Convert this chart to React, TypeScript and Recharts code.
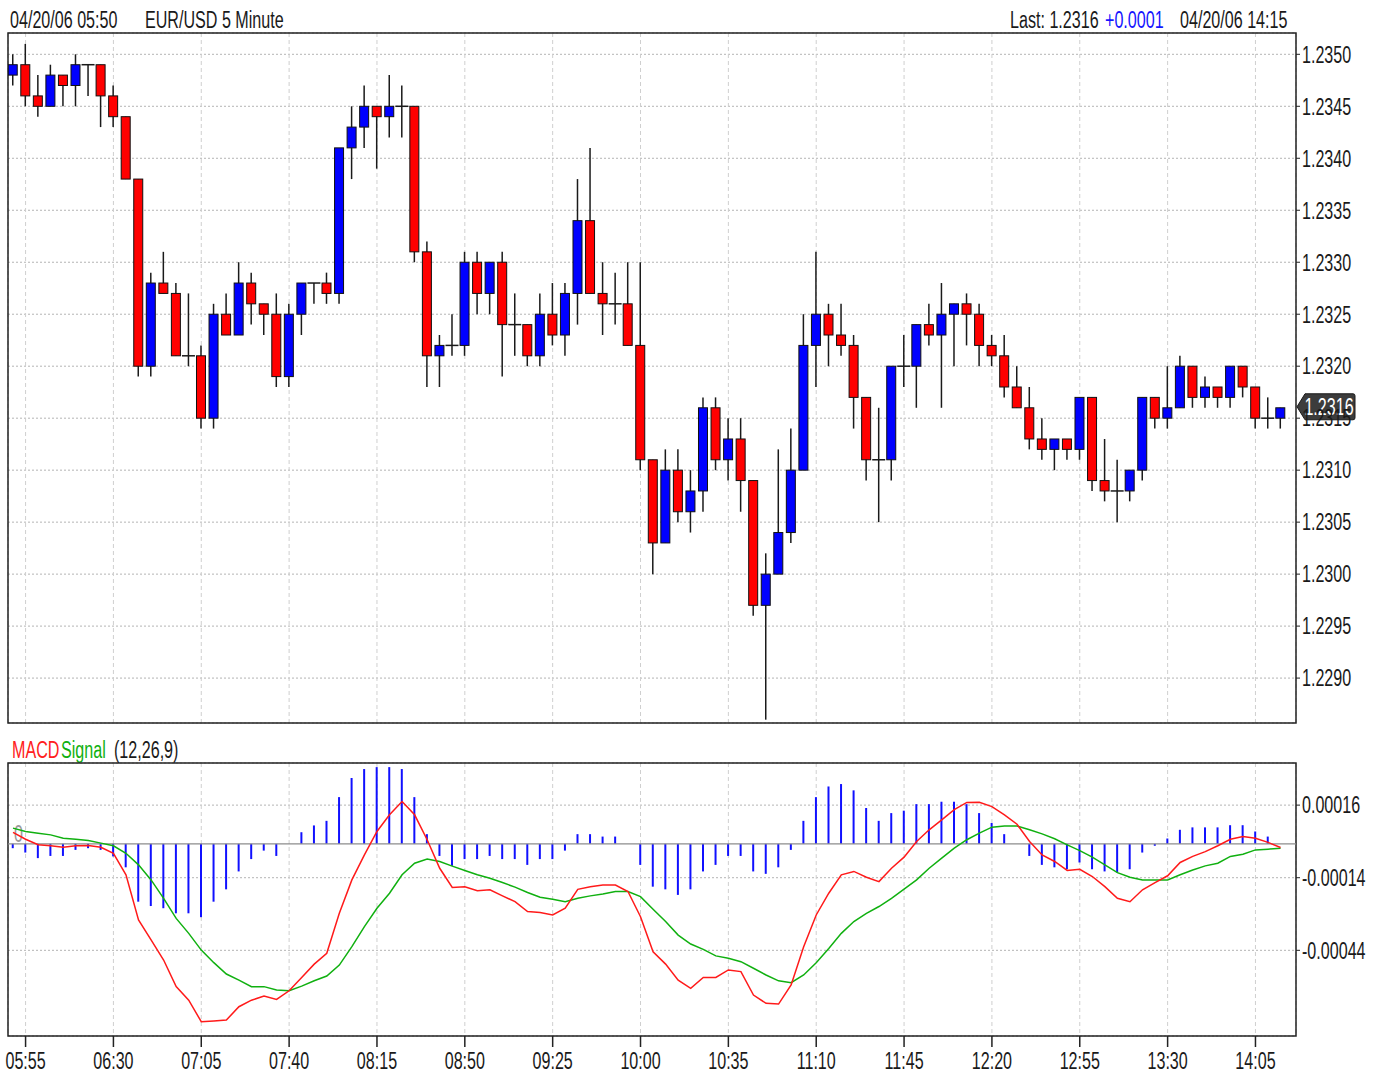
import React from "react";
import {
  ComposedChart,
  Bar,
  Line,
  XAxis,
  YAxis,
  CartesianGrid,
  ReferenceLine,
  ReferenceArea,
} from "recharts";

// no narrow font installed: Liberation Sans squeezed horizontally
const FONT = "'Liberation Sans', Arial, sans-serif";
const FS = 23;
const SQUEEZE = 0.7;

// EUR/USD 5 minute candles, 05:50 .. 14:15
const OPEN = [
  1.2348, 1.2349, 1.2346, 1.2345, 1.2348, 1.2347, 1.2349, 1.2349, 1.2346, 1.2344,
  1.2338, 1.232, 1.2328, 1.2327, 1.2321, 1.2321, 1.2315, 1.2325, 1.2323, 1.2328,
  1.2326, 1.2325, 1.2319, 1.2325, 1.2328, 1.2328, 1.2327, 1.2341, 1.2343, 1.2345,
  1.2344, 1.2345, 1.2345, 1.2331, 1.2321, 1.2322, 1.2322, 1.233, 1.2327, 1.233,
  1.2324, 1.2324, 1.2321, 1.2325, 1.2323, 1.2327, 1.2334, 1.2327, 1.2326, 1.2326,
  1.2322, 1.2311, 1.2303, 1.231, 1.2306, 1.2308, 1.2316, 1.2311, 1.2313, 1.2309,
  1.2297, 1.23, 1.2304, 1.231, 1.2322, 1.2325, 1.2323, 1.2322, 1.2317, 1.2311,
  1.2311, 1.232, 1.232, 1.2324, 1.2323, 1.2325, 1.2326, 1.2325, 1.2322, 1.2321,
  1.2318, 1.2316, 1.2313, 1.2312, 1.2313, 1.2312, 1.2317, 1.2309, 1.2308, 1.2308,
  1.231, 1.2317, 1.2315, 1.2316, 1.232, 1.2317, 1.2318, 1.2317, 1.232, 1.2318,
  1.2315, 1.2315,
];
const HIGH = [
  1.235, 1.2351, 1.2348, 1.2349, 1.2348, 1.235, 1.2349, 1.2349, 1.2347, 1.2344,
  1.2338, 1.2329, 1.2331, 1.2328, 1.2327, 1.2322, 1.2326, 1.2327, 1.233, 1.2329,
  1.2326, 1.2327, 1.2326, 1.2328, 1.2328, 1.2329, 1.2341, 1.2345, 1.2347, 1.2345,
  1.2348, 1.2347, 1.2345, 1.2332, 1.2323, 1.2325, 1.2331, 1.2331, 1.233, 1.2331,
  1.2327, 1.2324, 1.2327, 1.2328, 1.2328, 1.2338, 1.2341, 1.233, 1.2329, 1.233,
  1.233, 1.2311, 1.2312, 1.2312, 1.231, 1.2317, 1.2317, 1.2315, 1.2315, 1.2309,
  1.2302, 1.2312, 1.2314, 1.2325, 1.2331, 1.2326, 1.2326, 1.2323, 1.2317, 1.2316,
  1.232, 1.2323, 1.2324, 1.2326, 1.2328, 1.2326, 1.2327, 1.2326, 1.2323, 1.2323,
  1.232, 1.2318, 1.2315, 1.2313, 1.2313, 1.2317, 1.2317, 1.2313, 1.2311, 1.231,
  1.2317, 1.2317, 1.232, 1.2321, 1.232, 1.2319, 1.2318, 1.232, 1.232, 1.2318,
  1.2317, 1.2316,
];
const LOW = [
  1.2347, 1.2345, 1.2344, 1.2345, 1.2345, 1.2345, 1.2346, 1.2343, 1.2343, 1.2338,
  1.2319, 1.2319, 1.2327, 1.2321, 1.232, 1.2314, 1.2314, 1.2323, 1.2323, 1.2324,
  1.2323, 1.2318, 1.2318, 1.2323, 1.2326, 1.2326, 1.2326, 1.2338, 1.2341, 1.2339,
  1.2342, 1.2342, 1.233, 1.2318, 1.2318, 1.2321, 1.2321, 1.2325, 1.2325, 1.2319,
  1.2321, 1.232, 1.232, 1.2322, 1.2321, 1.2324, 1.2327, 1.2323, 1.2324, 1.2322,
  1.231, 1.23, 1.2303, 1.2305, 1.2304, 1.2306, 1.231, 1.2309, 1.2306, 1.2296,
  1.2286, 1.23, 1.2303, 1.231, 1.2318, 1.232, 1.2321, 1.2314, 1.2309, 1.2305,
  1.2309, 1.2318, 1.2316, 1.2322, 1.2316, 1.232, 1.2322, 1.232, 1.232, 1.2317,
  1.2316, 1.2312, 1.2311, 1.231, 1.2311, 1.2311, 1.2308, 1.2307, 1.2305, 1.2307,
  1.2309, 1.2314, 1.2314, 1.2316, 1.2316, 1.2316, 1.2316, 1.2316, 1.2317, 1.2314,
  1.2314, 1.2314,
];
const CLOSE = [
  1.2349, 1.2346, 1.2345, 1.2348, 1.2347, 1.2349, 1.2349, 1.2346, 1.2344, 1.2338,
  1.232, 1.2328, 1.2327, 1.2321, 1.2321, 1.2315, 1.2325, 1.2323, 1.2328, 1.2326,
  1.2325, 1.2319, 1.2325, 1.2328, 1.2328, 1.2327, 1.2341, 1.2343, 1.2345, 1.2344,
  1.2345, 1.2345, 1.2331, 1.2321, 1.2322, 1.2322, 1.233, 1.2327, 1.233, 1.2324,
  1.2324, 1.2321, 1.2325, 1.2323, 1.2327, 1.2334, 1.2327, 1.2326, 1.2326, 1.2322,
  1.2311, 1.2303, 1.231, 1.2306, 1.2308, 1.2316, 1.2311, 1.2313, 1.2309, 1.2297,
  1.23, 1.2304, 1.231, 1.2322, 1.2325, 1.2323, 1.2322, 1.2317, 1.2311, 1.2311,
  1.232, 1.232, 1.2324, 1.2323, 1.2325, 1.2326, 1.2325, 1.2322, 1.2321, 1.2318,
  1.2316, 1.2313, 1.2312, 1.2313, 1.2312, 1.2317, 1.2309, 1.2308, 1.2308, 1.231,
  1.2317, 1.2315, 1.2316, 1.232, 1.2317, 1.2318, 1.2317, 1.232, 1.2318, 1.2315,
  1.2315, 1.2316,
];

// MACD(12,26,9), values in units of 0.0001
const MACD = [
  0.47, 0.19, -0.04, -0.08, -0.14, -0.08, -0.07, -0.14, -0.39, -1.28,
  -3.14, -3.97, -4.8, -5.9, -6.46, -7.35, -7.32, -7.28, -6.73, -6.46,
  -6.29, -6.43, -6.07, -5.52, -4.97, -4.52, -2.87, -1.49, -0.46, 0.51,
  1.2, 1.75, 1.2, 0.17, -1.01, -1.8, -1.77, -1.94, -1.9, -2.15,
  -2.39, -2.8, -2.84, -2.94, -2.66, -1.88, -1.77, -1.7, -1.7, -1.97,
  -3.01, -4.46, -4.97, -5.63, -5.97, -5.52, -5.52, -5.21, -5.28, -6.25,
  -6.59, -6.62, -5.83, -4.25, -2.94, -2.04, -1.28, -1.14, -1.38, -1.56,
  -1.01, -0.55, 0.1, 0.58, 0.99, 1.41, 1.71, 1.72, 1.54, 1.2,
  0.81, 0.1, -0.46, -0.73, -1.1, -1.05, -1.35, -1.77, -2.25, -2.39,
  -1.9, -1.6, -1.32, -0.77, -0.52, -0.32, -0.08, 0.19, 0.3, 0.23,
  0.06, -0.15,
];
const SIGNAL = [
  0.65, 0.51, 0.44, 0.37, 0.23, 0.19, 0.14, 0.03, -0.08, -0.39,
  -0.87, -1.49, -2.25, -3.08, -3.7, -4.39, -4.91, -5.38, -5.63, -5.9,
  -5.9, -6.04, -6.07, -5.88, -5.66, -5.46, -5.01, -4.25, -3.42, -2.66,
  -2.04, -1.28, -0.8, -0.63, -0.73, -0.92, -1.1, -1.28, -1.42, -1.6,
  -1.79, -2.01, -2.21, -2.29, -2.39, -2.25, -2.15, -2.07, -1.97, -1.97,
  -2.18, -2.7, -3.21, -3.77, -4.14, -4.36, -4.63, -4.73, -4.87, -5.14,
  -5.42, -5.66, -5.74, -5.42, -4.91, -4.32, -3.7, -3.21, -2.87, -2.59,
  -2.25, -1.87, -1.49, -1.01, -0.59, -0.18, 0.17, 0.44, 0.69, 0.74,
  0.74, 0.58, 0.41, 0.21, -0.04, -0.28, -0.55, -0.87, -1.19, -1.38,
  -1.49, -1.49, -1.49, -1.28, -1.08, -0.91, -0.8, -0.52, -0.43, -0.25,
  -0.22, -0.18,
];
const HIST = [
  -0.18, -0.36, -0.59, -0.5, -0.5, -0.25, -0.18, -0.25, -0.52, -0.97,
  -2.39, -2.57, -2.66, -2.87, -2.87, -3.03, -2.39, -1.88, -1.14, -0.63,
  -0.28, -0.5, 0, 0.48, 0.76, 0.95, 1.93, 2.72, 3.09, 3.17,
  3.17, 3.09, 1.93, 0.4, -0.5, -0.91, -0.63, -0.63, -0.5, -0.63,
  -0.63, -0.87, -0.63, -0.63, -0.28, 0.4, 0.4, 0.3, 0.3, 0,
  -0.87, -1.77, -1.88, -2.11, -1.88, -1.14, -0.87, -0.5, -0.5, -1.14,
  -1.24, -0.97, -0.25, 0.95, 1.93, 2.37, 2.47, 2.21, 1.48, 0.95,
  1.27, 1.37, 1.64, 1.64, 1.74, 1.74, 1.64, 1.27, 0.86, 0.4,
  0, -0.5, -0.87, -0.97, -1.05, -0.77, -1.05, -1.14, -1.19, -1.05,
  -0.36, -0.08, 0.22, 0.58, 0.68, 0.68, 0.68, 0.77, 0.77, 0.51,
  0.3, 0,
];

const TIME_TICKS = [1, 8, 15, 22, 29, 36, 43, 50, 57, 64, 71, 78, 85, 92, 99];
const TIME_LABELS = [
  "05:55", "06:30", "07:05", "07:40", "08:15", "08:50", "09:25", "10:00",
  "10:35", "11:10", "11:45", "12:20", "12:55", "13:30", "14:05",
];
const PRICE_TICKS = [
  1.229, 1.2295, 1.23, 1.2305, 1.231, 1.2315, 1.232, 1.2325, 1.233, 1.2335,
  1.234, 1.2345, 1.235,
];
const MACD_TICKS = [1.6, -1.4, -4.4];
const LAST = 1.2316;

const X_DOMAIN: [number, number] = [-0.4, 102.23];
const PRICE_DOMAIN: [number, number] = [1.228568, 1.235205];
const MACD_DOMAIN: [number, number] = [-7.94, 3.34];

const candles = OPEN.map((o, i) => ({
  i,
  o,
  h: HIGH[i],
  l: LOW[i],
  c: CLOSE[i],
  range: [LOW[i], HIGH[i]],
}));

const macdRows = MACD.map((m, i) => ({ i, macd: m, signal: SIGNAL[i], hist: HIST[i] }));

function Candle(props: any) {
  const { x, y, width, height, payload } = props;
  if (!payload) return null;
  const { o, h, l, c } = payload;
  const top = Math.min(y, y + height);
  const bot = Math.max(y, y + height);
  const k = h > l ? (bot - top) / (h - l) : 0;
  const yOf = (v: number) => top + (h - v) * k;
  const cx = x + width / 2;
  const bw = 9;
  const yo = yOf(o);
  const yc = yOf(c);
  const up = c > o;
  return (
    <g>
      <line x1={cx} x2={cx} y1={top} y2={bot} stroke="#1a1a1a" strokeWidth={1.5} />
      {o === c ? (
        <line x1={cx - bw / 2 - 2} x2={cx + bw / 2 + 2} y1={yo} y2={yo} stroke="#1a1a1a" strokeWidth={1.5} />
      ) : (
        <rect
          x={cx - bw / 2}
          y={Math.min(yo, yc)}
          width={bw}
          height={Math.max(Math.abs(yo - yc), 1)}
          fill={up ? "#0000ff" : "#ff0000"}
          stroke="#111"
          strokeWidth={1}
        />
      )}
    </g>
  );
}

function NarrowText({ x, y, anchor, dy, fill, children }: any) {
  return (
    <text
      x={0}
      y={0}
      dy={dy}
      transform={`translate(${x},${y}) scale(${SQUEEZE},1)`}
      textAnchor={anchor}
      fill={fill}
      fontSize={FS}
      fontFamily={FONT}
    >
      {children}
    </text>
  );
}

function PriceTick(props: any) {
  return (
    <NarrowText x={props.x} y={props.y} anchor="start" dy="0.36em" fill="#1a1a1a">
      {Number(props.payload.value).toFixed(4)}
    </NarrowText>
  );
}

function MacdTick(props: any) {
  return (
    <NarrowText x={props.x} y={props.y} anchor="start" dy="0.36em" fill="#1a1a1a">
      {(Number(props.payload.value) / 10000).toFixed(5)}
    </NarrowText>
  );
}

function TimeTick(props: any) {
  const label = TIME_LABELS[TIME_TICKS.indexOf(props.payload.value)] ?? "";
  return (
    <NarrowText x={props.x} y={props.y} anchor="middle" dy="0.71em" fill="#1a1a1a">
      {label}
    </NarrowText>
  );
}

function LastBadge(props: any) {
  const vb = props.viewBox;
  if (!vb) return null;
  const x0 = vb.x + vb.width + 1;
  const y0 = vb.y - 1;
  return (
    <g>
      <path
        d={`M${x0},${y0} L${x0 + 8},${y0 - 13} L${x0 + 56},${y0 - 13} Q${x0 + 58},${y0 - 13} ${x0 + 58},${y0 - 11} L${x0 + 58},${y0 + 11} Q${x0 + 58},${y0 + 13} ${x0 + 56},${y0 + 13} L${x0 + 8},${y0 + 13} Z`}
        fill="#3c3c3c"
        stroke="#1a1a1a"
      />
      <NarrowText x={x0 + 32} y={y0} anchor="middle" dy="0.36em" fill="#fff">
        {LAST.toFixed(4)}
      </NarrowText>
    </g>
  );
}

function ZeroLabel(props: any) {
  const vb = props.viewBox;
  if (!vb) return null;
  return (
    <NarrowText x={vb.x + 6} y={vb.y - 2} anchor="start" dy="0" fill="#9a9a9a">
      0
    </NarrowText>
  );
}

function Txt({ left, top, color = "#1a1a1a", children }: any) {
  return (
    <span
      style={{
        position: "absolute",
        left,
        top,
        fontFamily: FONT,
        fontSize: FS,
        lineHeight: `${FS}px`,
        color,
        whiteSpace: "nowrap",
        transform: `scaleX(${SQUEEZE})`,
        transformOrigin: "0 0",
      }}
    >
      {children}
    </span>
  );
}

export default function App() {
  return (
    <div style={{ position: "absolute", left: 0, top: 0, width: 1379, height: 1081, background: "#fff", overflow: "hidden" }}>
      <Txt left={10} top={9}>04/20/06 05:50</Txt>
      <Txt left={145} top={9}>EUR/USD 5 Minute</Txt>
      <Txt left={1010} top={9}>Last: 1.2316</Txt>
      <Txt left={1105} top={9} color="#1515ff">+0.0001</Txt>
      <Txt left={1180} top={9}>04/20/06 14:15</Txt>

      <div style={{ position: "absolute", left: 0, top: 0 }}>
        <ComposedChart width={1379} height={730} data={candles} margin={{ top: 33, right: 23, bottom: 7, left: 8 }}>
          <CartesianGrid vertical={false} stroke="#b4b4b4" strokeDasharray="2 2" />
          <CartesianGrid horizontal={false} stroke="#cfcfcf" strokeDasharray="4 3" />
          <XAxis type="number" dataKey="i" domain={X_DOMAIN} ticks={TIME_TICKS} allowDataOverflow hide />
          <YAxis
            orientation="right"
            type="number"
            domain={PRICE_DOMAIN}
            ticks={PRICE_TICKS}
            allowDataOverflow
            width={60}
            tick={(p: any) => <PriceTick {...p} />}
            tickSize={4}
            tickMargin={2}
            axisLine={false}
            tickLine={{ stroke: "#222" }}
          />
          <ReferenceArea
            x1={X_DOMAIN[0]}
            x2={X_DOMAIN[1]}
            y1={PRICE_DOMAIN[0]}
            y2={PRICE_DOMAIN[1]}
            fill="none"
            stroke="#222"
            strokeWidth={1.5}
            ifOverflow="visible"
          />
          <Bar dataKey="range" barSize={10} isAnimationActive={false} shape={(p: any) => <Candle {...p} />} />
          <ReferenceLine y={LAST} stroke="none" ifOverflow="visible" label={(p: any) => <LastBadge {...p} />} />
        </ComposedChart>
      </div>

      <Txt left={12} top={739} color="#ff2020">MACD</Txt>
      <Txt left={61} top={739} color="#10b010">Signal</Txt>
      <Txt left={114} top={739}>(12,26,9)</Txt>

      <div style={{ position: "absolute", left: 0, top: 740 }}>
        <ComposedChart width={1379} height={341} data={macdRows} margin={{ top: 23, right: 23, bottom: 0, left: 8 }}>
          <CartesianGrid vertical={false} stroke="#b4b4b4" strokeDasharray="2 2" />
          <CartesianGrid horizontal={false} stroke="#cfcfcf" strokeDasharray="4 3" />
          <XAxis
            type="number"
            dataKey="i"
            domain={X_DOMAIN}
            ticks={TIME_TICKS}
            allowDataOverflow
            height={45}
            tick={(p: any) => <TimeTick {...p} />}
            tickSize={11}
            tickMargin={6}
            axisLine={false}
            tickLine={{ stroke: "#222", strokeWidth: 1.5 }}
          />
          <YAxis
            orientation="right"
            type="number"
            domain={MACD_DOMAIN}
            ticks={MACD_TICKS}
            allowDataOverflow
            width={60}
            tick={(p: any) => <MacdTick {...p} />}
            tickSize={4}
            tickMargin={2}
            axisLine={false}
            tickLine={{ stroke: "#222" }}
          />
          <ReferenceArea
            x1={X_DOMAIN[0]}
            x2={X_DOMAIN[1]}
            y1={MACD_DOMAIN[0]}
            y2={MACD_DOMAIN[1]}
            fill="none"
            stroke="#222"
            strokeWidth={1.5}
            ifOverflow="visible"
          />
          <ReferenceLine y={0} stroke="#8c8c8c" strokeWidth={1.2} label={(p: any) => <ZeroLabel {...p} />} />
          <Bar dataKey="hist" fill="#1010ff" barSize={2} isAnimationActive={false} />
          <Line type="linear" dataKey="signal" stroke="#10b010" strokeWidth={1.5} dot={false} isAnimationActive={false} />
          <Line type="linear" dataKey="macd" stroke="#ff1a1a" strokeWidth={1.5} dot={false} isAnimationActive={false} />
        </ComposedChart>
      </div>
    </div>
  );
}
